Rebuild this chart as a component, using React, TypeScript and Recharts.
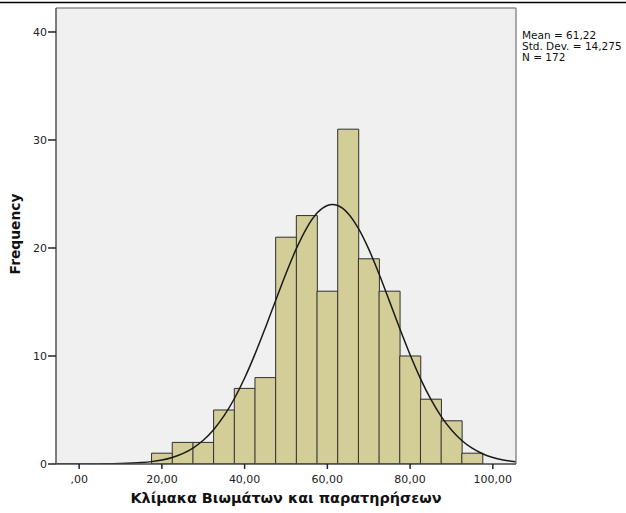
import React from "react";
import { ComposedChart, Bar, Line, XAxis, YAxis, CartesianGrid } from "recharts";

// Histogram bins (bin centres, width 5)
const binCenters = [20, 25, 30, 35, 40, 45, 50, 55, 60, 65, 70, 75, 80, 85, 90, 95];
const binCounts = [1, 2, 2, 5, 7, 8, 21, 23, 16, 31, 19, 16, 10, 6, 4, 1];

// Normal curve
const curveX = [-5.5, 0, 5, 10, 15, 17.5, 20, 22.5, 25, 27.5, 30, 32.5, 35, 37.5, 40, 42.5, 45, 47.5, 50, 52.5, 55, 57.5, 60, 61.2, 62.5, 65, 67.5, 70, 72.5, 75, 77.5, 80, 82.5, 85, 87.5, 90, 92.5, 95, 97.5, 100, 102.5, 105.5];
const curveY = [0, 0, 0.01, 0.04, 0.13, 0.22, 0.37, 0.61, 0.96, 1.48, 2.2, 3.18, 4.45, 6.04, 7.96, 10.17, 12.6, 15.14, 17.64, 19.94, 21.85, 23.23, 23.94, 24.03, 23.93, 23.2, 21.81, 19.89, 17.59, 15.08, 12.54, 10.11, 7.91, 6.0, 4.41, 3.15, 2.18, 1.46, 0.95, 0.6, 0.37, 0.2];

const xTicks = [0, 20, 40, 60, 80, 100];
const xTickLabels = [",00", "20,00", "40,00", "60,00", "80,00", "100,00"];
const yTicks = [0, 10, 20, 30, 40];

const legendLines = ["Mean = 61,22", "Std. Dev. = 14,275", "N = 172"];
const xTitle = "Κλίμακα Βιωμάτων και παρατηρήσεων";
const yTitle = "Frequency";

const binData = binCenters.map((x, i) => ({ x, count: binCounts[i] }));
const curveData = curveX.map((x, i) => ({ x, y: curveY[i] }));

const X_DOMAIN: [number, number] = [-5.6, 105.6];
const FONT = "'DejaVu Sans', sans-serif";

const YLabel = (props: any) => {
  const vb = props.viewBox || {};
  const cy = vb.y + vb.height / 2 - 2;
  const cx = 20;
  return (
    <text
      x={cx}
      y={cy}
      transform={`rotate(-90, ${cx}, ${cy})`}
      textAnchor="middle"
      fontFamily={FONT}
      fontWeight="bold"
      fontSize={13.8}
      fill="#111"
    >
      {yTitle}
    </text>
  );
};

export default function App() {
  return (
    <div style={{ position: "absolute", left: 0, top: 0, width: 626, height: 513, background: "#fff" }}>
      <ComposedChart
        width={626}
        height={513}
        data={binData}
        margin={{ top: 8, right: 110, bottom: 0, left: 0 }}
        barCategoryGap={0}
        barGap={0}
      >
        <CartesianGrid
          fill="#f0f0f0"
          stroke="#8c8c8c"
          strokeWidth={1.5}
          horizontalCoordinatesGenerator={({ offset }: any) => [offset.top]}
          verticalCoordinatesGenerator={({ offset }: any) => [offset.left + offset.width]}
        />
        <XAxis
          xAxisId="curve"
          dataKey="x"
          type="number"
          domain={X_DOMAIN}
          allowDataOverflow
          ticks={xTicks}
          interval={0}
          tickFormatter={(v: number) => xTickLabels[xTicks.indexOf(v)] ?? ""}
          height={49}
          tickSize={5}
          tickMargin={6}
          stroke="#444"
          strokeWidth={1.5}
          tickLine={{ stroke: "#222", strokeWidth: 1.5 }}
          tick={{ fill: "#222", fontSize: 11, fontFamily: FONT }}
          label={{
            value: xTitle,
            position: "insideBottom",
            offset: 10,
            fill: "#111",
            fontSize: 14.4,
            fontWeight: "bold",
            fontFamily: FONT,
          }}
        />
        <XAxis
          xAxisId="bins"
          dataKey="x"
          type="number"
          domain={X_DOMAIN}
          allowDataOverflow
          hide
          height={0}
        />
        <YAxis
          type="number"
          domain={[0, 42.22]}
          allowDataOverflow
          ticks={yTicks}
          interval={0}
          width={56}
          tickSize={8}
          tickMargin={1}
          stroke="#555"
          strokeWidth={1.5}
          tickLine={{ stroke: "#222", strokeWidth: 1.5 }}
          tick={{ fill: "#222", fontSize: 11, fontFamily: FONT }}
          label={<YLabel />}
        />
        <Bar
          xAxisId="bins"
          dataKey="count"
          fill="#d3ce97"
          stroke="#2e2e2e"
          strokeWidth={1}
          isAnimationActive={false}
        />
        <Line
          xAxisId="curve"
          data={curveData}
          dataKey="y"
          type="monotone"
          stroke="#1a1a1a"
          strokeWidth={1.5}
          dot={false}
          activeDot={false}
          isAnimationActive={false}
        />
      </ComposedChart>
      <svg
        width={626}
        height={513}
        style={{ position: "absolute", left: 0, top: 0, pointerEvents: "none" }}
      >
        <line x1={0} x2={626} y1={2.5} y2={2.5} stroke="#000" strokeWidth={1.5} />
        {legendLines.map((t, i) => (
          <text
            key={t}
            x={522}
            y={39 + i * 11}
            fontFamily={FONT}
            fontSize={10.5}
            fill="#111"
          >
            {t}
          </text>
        ))}
      </svg>
    </div>
  );
}
